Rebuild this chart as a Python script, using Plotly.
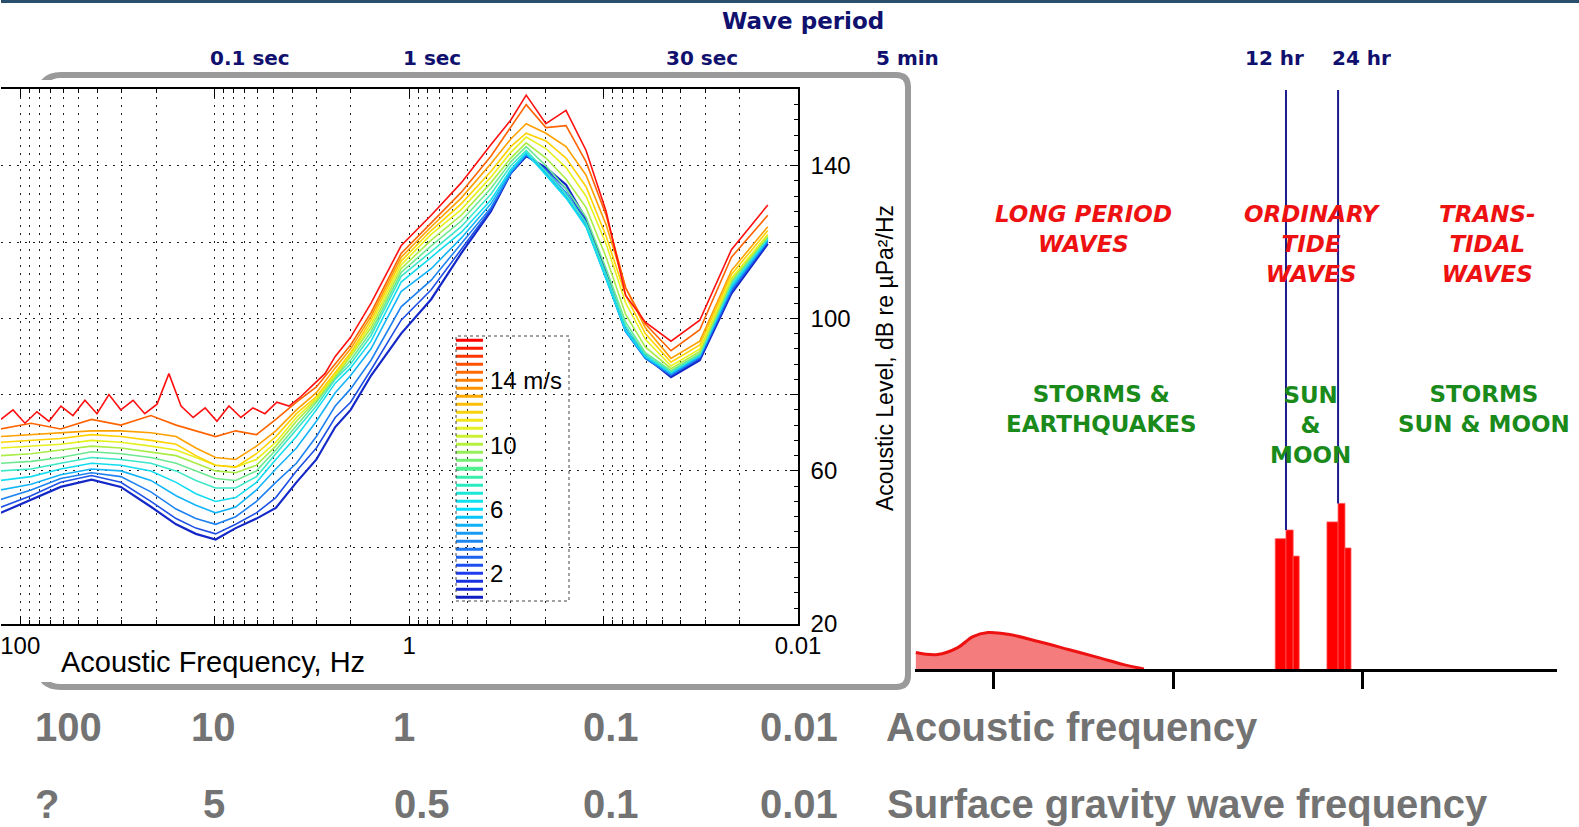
import plotly.graph_objects as go

W, H = 1579, 827

# ---- inset: ambient noise spectra vs acoustic frequency ----
freq_hz = [126, 88, 62, 43, 30.4, 21.3, 15.8, 12.5, 9.9, 7.8, 6.1, 4.85, 3.8, 3.0,
           2.4, 2.0, 1.57, 1.1, 0.77, 0.54, 0.38, 0.30, 0.25, 0.198, 0.156, 0.123,
           0.097, 0.077, 0.061, 0.045, 0.032, 0.022, 0.0143]

level_2ms = [49.0, 52.4, 55.8, 57.7, 55.8, 50.6, 46.0, 43.5, 42.0, 45.0, 47.5, 50.3,
             57.0, 63.0, 71.5, 76.0, 85.0, 96.0, 105.0, 117.0, 128.0, 138.0, 142.5,
             139.5, 135.0, 126.0, 112.0, 97.0, 90.0, 84.6, 89.0, 106.5, 119.5]
level_3ms = [50.5, 53.5, 57.0, 58.8, 57.0, 52.0, 47.5, 45.0, 43.5, 46.0, 49.0, 53.0,
             60.0, 66.0, 74.0, 78.0, 86.5, 99.5, 107.5, 118.0, 128.5, 138.0, 142.8,
             139.0, 134.0, 125.0, 111.0, 96.5, 89.5, 85.0, 89.5, 107.0, 120.0]
level_4ms = [52.5, 55.0, 58.0, 59.5, 58.5, 54.5, 50.0, 47.5, 46.0, 48.0, 52.0, 57.0,
             62.0, 69.0, 77.0, 81.5, 89.0, 103.0, 110.0, 119.5, 129.0, 138.0, 143.0,
             138.5, 133.0, 124.5, 110.5, 96.5, 89.5, 85.2, 89.8, 107.5, 120.2]
level_5ms = [55.0, 56.5, 59.0, 60.5, 60.0, 57.5, 53.5, 51.0, 49.0, 50.5, 55.0, 60.5,
             66.0, 73.0, 80.5, 85.0, 92.0, 107.0, 113.0, 121.0, 130.0, 138.5, 143.0,
             138.0, 132.0, 124.0, 110.5, 96.5, 89.8, 85.5, 90.0, 108.0, 120.5]
level_6ms = [57.5, 58.5, 60.5, 62.0, 61.5, 60.0, 57.0, 54.0, 52.0, 53.0, 57.0, 63.0,
             69.0, 76.0, 83.0, 87.0, 94.0, 109.5, 116.0, 122.5, 131.0, 139.0, 143.5,
             137.5, 131.5, 124.0, 110.5, 97.0, 90.0, 85.8, 90.3, 108.5, 120.8]
level_7ms = [60.0, 60.5, 62.0, 63.5, 63.0, 62.0, 60.0, 57.5, 55.5, 55.5, 58.5, 64.5,
             71.0, 77.0, 84.0, 88.0, 95.5, 111.0, 117.5, 124.0, 132.5, 140.0, 144.0,
             138.5, 132.5, 125.0, 111.5, 98.0, 90.5, 86.0, 90.6, 109.0, 121.0]
level_8ms = [62.0, 62.5, 63.5, 65.0, 64.5, 63.5, 62.0, 60.0, 58.0, 57.5, 60.0, 65.5,
             72.0, 78.0, 84.5, 89.0, 96.5, 112.0, 119.0, 125.5, 134.0, 141.0, 145.0,
             140.0, 134.0, 126.5, 113.0, 99.0, 91.0, 86.3, 90.8, 109.5, 121.3]
level_9ms = [64.0, 64.5, 65.5, 66.5, 66.0, 65.0, 64.0, 62.0, 60.0, 59.5, 61.5, 66.5,
             73.0, 78.5, 85.0, 90.0, 97.5, 113.0, 120.5, 127.0, 135.5, 142.0, 146.0,
             142.0, 136.5, 129.0, 116.0, 101.0, 92.5, 86.8, 91.3, 110.0, 121.6]
level_10ms = [66.0, 66.5, 67.0, 68.0, 67.5, 66.5, 65.5, 63.5, 61.5, 61.0, 63.0, 67.5,
              74.0, 79.0, 85.5, 90.5, 98.5, 114.0, 122.0, 128.5, 137.0, 143.5, 147.5,
              144.5, 139.5, 132.0, 119.5, 104.0, 94.5, 87.5, 92.0, 110.5, 122.0]
level_11ms = [67.5, 68.0, 68.5, 69.5, 69.0, 68.0, 67.0, 64.0, 61.5, 61.0, 64.5, 69.0,
              75.0, 79.5, 86.0, 91.0, 99.5, 115.0, 123.0, 130.0, 138.5, 145.0, 148.5,
              146.5, 142.0, 134.5, 121.5, 106.0, 96.0, 88.5, 93.0, 111.5, 123.0]
level_12ms = [69.0, 69.5, 70.0, 70.5, 70.5, 70.0, 69.0, 66.0, 63.5, 63.0, 66.5, 70.5,
              76.0, 80.5, 87.0, 92.0, 100.5, 116.0, 124.0, 131.5, 140.5, 147.0, 151.0,
              148.5, 145.0, 137.5, 124.5, 108.0, 97.5, 89.5, 94.0, 112.5, 124.0]
level_13ms = [71.0, 72.5, 71.0, 73.5, 72.0, 74.5, 72.0, 70.5, 69.0, 70.5, 69.5, 73.5,
              78.0, 82.0, 88.0, 93.0, 101.5, 117.0, 125.0, 133.0, 142.5, 150.0, 156.0,
              150.0, 150.5, 141.0, 127.0, 108.0, 98.5, 91.5, 97.0, 116.0, 127.0]

# top (red) spectrum: noisy low-frequency plateau read on a finer grid, then the common grid
red_freq_plateau = [125.7, 109.0, 94.6, 82.1, 71.2, 61.8, 53.6, 46.5, 40.3, 35.0, 30.4,
                    26.3, 22.9, 19.8, 17.2, 14.9, 12.9, 11.2, 9.74, 8.45, 7.33, 6.36,
                    5.52, 4.79, 4.15, 3.60, 3.13, 2.71]
red_level_plateau = [73.5, 76.0, 72.5, 75.5, 73.0, 77.0, 74.5, 78.5, 75.0, 80.0, 76.0,
                     78.5, 75.0, 77.5, 85.5, 77.0, 74.0, 76.5, 73.0, 77.0, 74.0, 76.5,
                     75.0, 78.0, 77.0, 79.5, 82.5, 85.5]
red_level_tail = [90.0, 95.0, 104.0, 119.0, 127.0, 135.5, 145.5, 152.0, 158.5, 151.0,
                  154.5, 144.0, 128.0, 106.0, 99.0, 94.0, 99.5, 118.0, 129.7]

spectra = [level_2ms, level_3ms, level_4ms, level_5ms, level_6ms, level_7ms, level_8ms,
           level_9ms, level_10ms, level_11ms, level_12ms, level_13ms]
spectra_colors = ['#1428c8', '#1e50e6', '#1e82f0', '#14b4f8', '#14dcf0', '#3ce8c8',
                  '#6ee890', '#aaec46', '#e6f01e', '#ffd200', '#ffa000', '#ff6400']

legend_speeds = [0.5, 1, 1.5, 2, 2.5, 3, 3.5, 4, 4.5, 5, 5.5, 6, 6.5, 7, 7.5, 8, 8.5,
                 9, 9.5, 10, 10.5, 11, 11.5, 12, 12.5, 13, 13.5, 14, 14.5, 15, 15.5,
                 16, 16.5]
legend_tickvals = [2, 6, 10, 14]
legend_ticktext = ['2', '6', '10', '14 m/s']

acoustic_ticks = [100, 10, 1, 0.1, 0.01]
acoustic_ticktext = ['100', '', '1', '', '0.01']
level_ticks = [20, 40, 60, 80, 100, 120, 140, 160]
level_ticktext = ['20', '', '60', '', '100', '', '140', '']

# ---- right panel: schematic energy vs wave period (hours) ----
lp_period_hr = [0.087, 0.116, 0.152, 0.186, 0.227, 0.297, 0.444, 0.663, 0.991, 1.386, 1.811]
lp_energy = [2.85, 2.5, 3.7, 5.6, 6.3, 6.0, 4.75, 3.37, 1.97, 0.76, 0.0]

tide_left_hr = [10.4, 12.0, 13.2, 20.7, 24.0, 26.3]
tide_right_hr = [12.0, 13.2, 14.3, 24.0, 26.3, 28.5]
tide_energy = [22.5, 24.0, 19.5, 25.4, 28.6, 20.9]
tide_lines_hr = [12, 24]
tide_line_base = [24.0, 28.6]

# ---- text ----
period_labels = ['0.1 sec', '1 sec', '30 sec', '5 min', '12 hr', '24 hr']
acoustic_row = ['100', '10', '1', '0.1', '0.01']
surface_row = ['?', '5', '0.5', '0.1', '0.01']
wave_classes = ['LONG PERIOD<br>WAVES', 'ORDINARY<br>TIDE<br>WAVES', 'TRANS-<br>TIDAL<br>WAVES']
wave_forces = ['STORMS &<br>EARTHQUAKES', 'SUN<br>&<br>MOON', 'STORMS<br>SUN & MOON']


def px(x):
    return x / W


def py(y):
    return 1 - y / H


fig = go.Figure()

for lv, col in zip(spectra, spectra_colors):
    fig.add_trace(go.Scatter(x=freq_hz, y=lv, mode='lines', xaxis='x', yaxis='y',
                             line=dict(color=col, width=2.2 if col == '#1428c8' else 1.6),
                             hoverinfo='skip', showlegend=False))
fig.add_trace(go.Scatter(x=red_freq_plateau + freq_hz[14:],
                         y=red_level_plateau + red_level_tail,
                         mode='lines', xaxis='x', yaxis='y',
                         line=dict(color='#ff1010', width=1.6),
                         hoverinfo='skip', showlegend=False))

jet = [[0, '#0a14b4'], [0.12, '#1e3cf0'], [0.25, '#1e8cf0'], [0.37, '#00e0ff'],
       [0.5, '#40f0a0'], [0.6, '#b0f040'], [0.68, '#f0f020'], [0.78, '#ffb000'],
       [0.88, '#ff6a00'], [1, '#ff0000']]
fig.add_trace(go.Heatmap(x=[0], y=legend_speeds, z=[[s] for s in legend_speeds],
                         colorscale=jet, zmin=0, zmax=16.5, showscale=False, ygap=5,
                         xaxis='x3', yaxis='y3', hoverinfo='skip'))

# right panel marks
fig.add_trace(go.Scatter(x=lp_period_hr, y=lp_energy, mode='lines', fill='tozeroy',
                         fillcolor='#f47c7c', line=dict(color='#ee1111', width=3, shape='spline'),
                         xaxis='x2', yaxis='y2', hoverinfo='skip', showlegend=False))
for l, r, h in zip(tide_left_hr, tide_right_hr, tide_energy):
    fig.add_trace(go.Scatter(x=[l, l, r, r], y=[0, h, h, 0], mode='lines', fill='toself',
                             fillcolor='#ff0000', line=dict(color='#ff5050', width=0.8),
                             xaxis='x2', yaxis='y2', hoverinfo='skip', showlegend=False))
for t, b in zip(tide_lines_hr, tide_line_base):
    fig.add_trace(go.Scatter(x=[t, t], y=[b, 100], mode='lines',
                             line=dict(color='#1c1c8c', width=2),
                             xaxis='x2', yaxis='y2', hoverinfo='skip', showlegend=False))

grid_dash = '2px,6px'
minor_freq = [m * d for d in [0.01, 0.1, 1, 10] for m in range(2, 10)]

fig.update_layout(
    width=W, height=H, autosize=False, margin=dict(l=0, r=0, t=0, b=0),
    paper_bgcolor='white', plot_bgcolor='rgba(0,0,0,0)',
    showlegend=False, hovermode=False,
    font=dict(family='Liberation Sans', color='black'),
    xaxis=dict(type='log', domain=[0, px(797)], range=[2.0992, -2.0], anchor='y',
               showline=True, linecolor='black', linewidth=1.5, mirror='ticks',
               ticks='inside', ticklen=8, tickwidth=1.2, tickcolor='black',
               tickmode='array', tickvals=acoustic_ticks, ticktext=acoustic_ticktext,
               tickfont=dict(size=24, color='black'), ticklabeloverflow='allow',
               showgrid=True, gridcolor='#222', gridwidth=1, griddash=grid_dash,
               minor=dict(tickvals=minor_freq, ticks='inside', ticklen=4, tickcolor='black',
                          showgrid=True, gridcolor='#222', gridwidth=1, griddash=grid_dash),
               zeroline=False),
    yaxis=dict(domain=[py(623.5), py(89.4)], range=[20, 160], anchor='x', side='right',
               showline=True, linecolor='black', linewidth=1.5,
               ticks='inside', ticklen=8, tickwidth=1.2, tickcolor='black',
               tickmode='array', tickvals=level_ticks, ticktext=level_ticktext,
               tickfont=dict(size=24, color='black'), ticklabelstandoff=6,
               showgrid=True, gridcolor='#222', gridwidth=1, griddash=grid_dash,
               minor=dict(tickvals=[v for v in range(24, 160, 4) if v % 20], ticks='inside',
                          ticklen=4, tickcolor='black', showgrid=False),
               zeroline=False),
    xaxis2=dict(type='log', domain=[px(914), px(1556)], range=[-1.0653, 2.6457], anchor='y2',
                showline=True, linecolor='black', linewidth=3,
                ticks='outside', ticklen=17, tickwidth=2.5, tickcolor='black',
                tickmode='array', tickvals=[0.243, 2.7, 33], showticklabels=False,
                showgrid=False, zeroline=False),
    yaxis2=dict(domain=[py(669), py(90)], range=[0, 100], anchor='x2', visible=False),
    xaxis3=dict(domain=[px(455), px(482)], range=[-0.5, 0.5], anchor='y3', visible=False),
    yaxis3=dict(domain=[py(601.7), py(336.7)], range=[0.25, 16.75], anchor='x3', side='right',
                showline=False, ticks='', tickmode='array', tickvals=legend_tickvals,
                ticktext=legend_ticktext, tickfont=dict(size=24, color='black'),
                ticklabelstandoff=6, showgrid=False, zeroline=False),
)

frame = (f"M {px(38)},{py(100)} Q {px(38)},{py(75)} {px(60)},{py(75)} L {px(895)},{py(75)} "
         f"Q {px(907)},{py(75)} {px(907)},{py(87)} L {px(907)},{py(675)} "
         f"Q {px(907)},{py(687)} {px(895)},{py(687)} L {px(60)},{py(687)} "
         f"Q {px(38)},{py(687)} {px(38)},{py(665)} Z")
fig.add_shape(type='path', path=frame, xref='paper', yref='paper', layer='below',
              line=dict(color='#9a9a9a', width=6), fillcolor='white')
fig.add_shape(type='rect', xref='paper', yref='paper', layer='below',
              x0=0, x1=px(902), y0=py(682), y1=py(80), line=dict(width=0), fillcolor='white')
fig.add_shape(type='rect', xref='paper', yref='paper', layer='below',
              x0=0, x1=1, y0=py(3), y1=1, line=dict(width=0), fillcolor='#2a4f6c')
fig.add_shape(type='rect', xref='paper', yref='paper', layer='above',
              x0=px(455), x1=px(568), y0=py(601), y1=py(336),
              line=dict(color='#444', width=1, dash='dot'), fillcolor='rgba(0,0,0,0)')

navy = '#10106e'
ann = []
ann.append(dict(text='<b>Wave period</b>', x=px(802), y=py(21),
                font=dict(family='DejaVu Sans', size=23, color=navy)))
for lab, xp in zip(period_labels, [249, 431, 701, 906, 1273, 1360]):
    ann.append(dict(text=f'<b>{lab}</b>', x=px(xp), y=py(58),
                    font=dict(family='DejaVu Sans', size=20, color=navy)))
for lab, xp, yp in zip(wave_classes, [1082, 1311, 1486], [229, 244, 244]):
    ann.append(dict(text=f'<b><i>{lab}</i></b>', x=px(xp), y=py(yp),
                    font=dict(family='DejaVu Sans', size=23, color='#ee1111')))
for lab, xp, yp in zip(wave_forces, [1100, 1309, 1483], [409, 425, 409]):
    ann.append(dict(text=f'<b>{lab}</b>', x=px(xp), y=py(yp),
                    font=dict(family='DejaVu Sans', size=23, color='#1a8a1a')))
for lab, xp in zip(acoustic_row, [67, 212, 403, 610, 798]):
    ann.append(dict(text=f'<b>{lab}</b>', x=px(xp), y=py(727),
                    font=dict(size=40, color='#737373')))
for lab, xp in zip(surface_row, [46, 213, 421, 610, 798]):
    ann.append(dict(text=f'<b>{lab}</b>', x=px(xp), y=py(804),
                    font=dict(size=40, color='#737373')))
ann.append(dict(text='<b>Acoustic frequency</b>', x=px(883), y=py(727), xanchor='left',
                font=dict(size=40, color='#737373')))
ann.append(dict(text='<b>Surface gravity wave frequency</b>', x=px(884), y=py(804),
                xanchor='left', font=dict(size=40, color='#737373')))
ann.append(dict(text='Acoustic Frequency, Hz', x=px(212), y=py(662),
                font=dict(size=29, color='black')))
ann.append(dict(text='Acoustic Level, dB re µPa²/Hz', x=px(884), y=py(358), textangle=-90,
                font=dict(size=23, color='black')))

for a in ann:
    a.setdefault('xref', 'paper')
    a.setdefault('yref', 'paper')
    a.setdefault('xanchor', 'center')
    a.setdefault('yanchor', 'middle')
    a.setdefault('showarrow', False)
    a.setdefault('align', 'center')
fig.update_layout(annotations=ann)

# pin the figure to the window origin; the photographed area comes out about 1.5% larger
# than the figure, so size the figure to that area (all placement above is in paper fractions)
fix_page = ("document.documentElement.style.overflow='hidden';"
            "document.body.style.margin='0';document.body.style.overflow='hidden';"
            "var gd=document.getElementById('{plot_id}');"
            "gd.style.position='fixed';gd.style.left='0px';gd.style.top='0px';"
            "Plotly.relayout(gd,{width:1603,height:840});")
fig.write_html("out.html", config=dict(displayModeBar=False, responsive=False),
               post_script=fix_page)
